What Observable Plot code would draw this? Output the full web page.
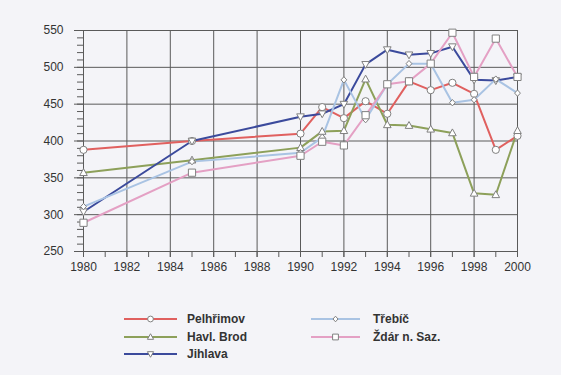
<!DOCTYPE html>
<html><head><meta charset="utf-8">
<script src="https://cdn.jsdelivr.net/npm/d3@7"></script>
<script src="https://cdn.jsdelivr.net/npm/@observablehq/plot@0.6"></script>
<style>
html,body{margin:0;padding:0;background:#f4f4f8;}
body{font-family:Arial,"Liberation Sans",sans-serif;}
#chart{position:relative;width:561px;height:375px;overflow:hidden;}
#chart svg.plot{position:absolute;left:0;top:0;}
.leg{position:absolute;display:flex;align-items:center;height:16px;font-weight:bold;font-size:12px;color:#333;white-space:nowrap;}
.leg svg{display:block;}
</style></head><body><div id="chart"></div>
<script>
// ---- data ----
const years = [1980,1985,1990,1991,1992,1993,1994,1995,1996,1997,1998,1999,2000];
const seriesNames = ["Pelhřimov","Havl. Brod","Jihlava","Třebíč","Ždár n. Saz."];
const pelhrimov = [388,400,410,446,431,454,437,481,469,479,464,388,407];
const havlBrod  = [357,374,391,413,414,484,422,421,416,411,329,327,414];
const jihlava   = [304,400,433,437,450,504,524,517,519,528,483,482,487];
const trebic    = [311,372,384,405,483,429,477,505,505,452,456,484,465];
const zdar      = [289,357,380,399,394,435,477,481,505,547,487,539,487];
const yTicks = [250,300,350,400,450,500,550];
const xTicks = [1980,1982,1984,1986,1988,1990,1992,1994,1996,1998,2000];

// ---- styles ----
const colors = ["#e0605f","#8da05a","#3b4a9c","#a9c3e3","#e4a0c4"];
function mk(pts){ return {draw(ctx,size){ const r=Math.sqrt(size/Math.PI); ctx.moveTo(pts[0][0]*r,pts[0][1]*r); for(let i=1;i<pts.length;i++) ctx.lineTo(pts[i][0]*r,pts[i][1]*r); ctx.closePath(); }}; }
const circleSym = {draw(ctx,size){ const r=Math.sqrt(size/Math.PI); ctx.moveTo(r,0); ctx.arc(0,0,r,0,2*Math.PI); }};
const triUp = mk([[0,-1.05],[1,0.75],[-1,0.75]]);
const triDown = mk([[0,1.05],[1,-0.75],[-1,-0.75]]);
const diamond = mk([[0,-1],[0.9,0],[0,1],[-0.9,0]]);
const square = mk([[-1,-1],[1,-1],[1,1],[-1,1]]);
const symbols = [circleSym, triUp, triDown, diamond, square];
const radii = [3.6, 3.8, 3.8, 3.2, 3.6];
const legendRadii = [2.9, 3.1, 3.1, 2.8, 2.9];

const values = [pelhrimov, havlBrod, jihlava, trebic, zdar];
const rows = seriesNames.flatMap((s,k) => years.map((y,i) => ({series:s, year:y, value:values[k][i]})));

const gridColor = "#5a5a5a";
const plot = Plot.plot({
  width:561, height:285,
  marginLeft:83, marginRight:44, marginTop:30, marginBottom:34,
  style:{background:"transparent", fontFamily:"Arial, 'Liberation Sans', sans-serif", fontSize:"12px", color:"#333"},
  x:{domain:[1980,2000], label:null},
  y:{domain:[250,550], label:null},
  color:{domain:seriesNames, range:colors},
  marks:[
    Plot.ruleX(xTicks, {stroke:gridColor, strokeWidth:1}),
    Plot.ruleY(yTicks, {stroke:gridColor, strokeWidth:1}),
    Plot.axisX(d3.range(1980,2001,1), {tickSize:6, text:null, stroke:gridColor, label:null}),
    Plot.axisX(xTicks, {tickSize:6, tickPadding:5, tickFormat:d=>String(d), stroke:gridColor, fill:"#333", label:null}),
    Plot.axisY(d3.range(250,551,10), {tickSize:6, text:null, stroke:gridColor, label:null}),
    Plot.axisY(yTicks, {tickSize:9, tickPadding:11, tickFormat:d=>String(d), stroke:gridColor, fill:"#333", label:null}),
    Plot.line(rows, {x:"year", y:"value", z:"series", stroke:"series", strokeWidth:2}),
    ...seriesNames.map((s,k) => Plot.dot(rows.filter(d=>d.series===s), {x:"year", y:"value", symbol:symbols[k], r:radii[k], fill:"#ffffff", stroke:"#808080", strokeWidth:1}))
  ]
});
plot.classList.add("plot");
const chart = document.getElementById("chart");
chart.appendChild(plot);

// ---- legend ----
const legendPos = [
  {left:124, top:311, w:53, gap:10},
  {left:124, top:329, w:53, gap:10},
  {left:124, top:346, w:53, gap:10},
  {left:311, top:311, w:49, gap:13},
  {left:311, top:329, w:49, gap:13}
];
seriesNames.forEach((s,k) => {
  const p = legendPos[k];
  const div = document.createElement("div");
  div.className = "leg";
  div.style.left = p.left+"px"; div.style.top = p.top+"px";
  const svg = d3.create("svg").attr("width",p.w).attr("height",16);
  svg.append("line").attr("x1",0).attr("x2",p.w).attr("y1",8).attr("y2",8).attr("stroke",colors[k]).attr("stroke-width",2);
  const path = d3.path();
  symbols[k].draw(path, Math.PI*legendRadii[k]*legendRadii[k]);
  svg.append("path").attr("d",path.toString()).attr("transform",`translate(${p.w/2},8)`).attr("fill","#fff").attr("stroke","#808080");
  div.appendChild(svg.node());
  const t = document.createElement("span");
  t.textContent = s; t.style.marginLeft = p.gap+"px";
  div.appendChild(t);
  chart.appendChild(div);
});
</script>
</body></html>
